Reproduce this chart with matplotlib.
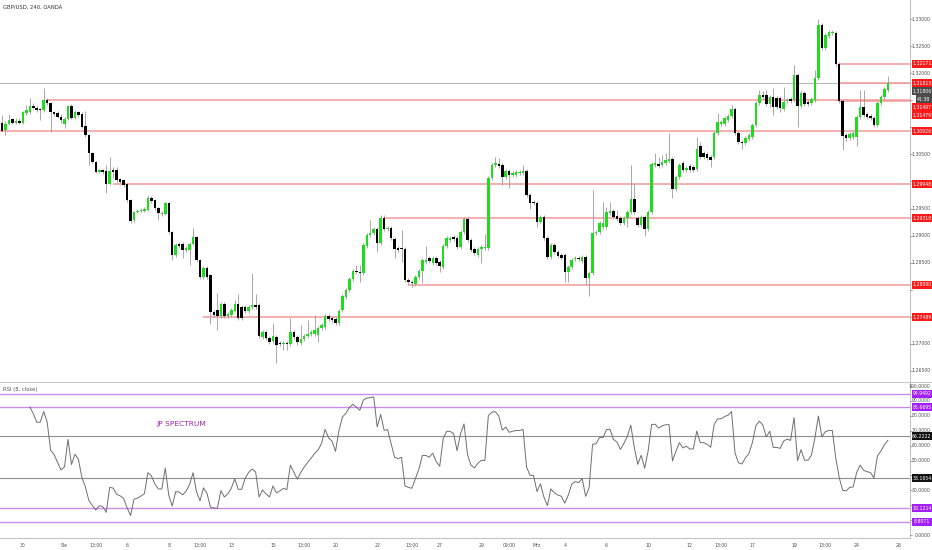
import numpy as np
import pandas as pd
import matplotlib
matplotlib.use('Agg')
import matplotlib.pyplot as plt
from matplotlib.patches import Rectangle

# ---------------- data ----------------
opens = [
1.3108, 1.3095, 1.3106, 1.3115, 1.3108, 1.3112, 1.3108, 1.3126, 1.3128, 1.3139,
1.3136, 1.3134, 1.3132, 1.3150, 1.3145, 1.3128, 1.3126, 1.3119, 1.3106, 1.3115,
1.3139, 1.3117, 1.3128, 1.3125, 1.3102, 1.3086, 1.3053, 1.3036, 1.3017, 1.3021,
1.3019, 1.2995, 1.3021, 1.3021, 1.3004, 1.3003, 1.2995, 1.2966, 1.2929, 1.2944,
1.2945, 1.2945, 1.2947, 1.2969, 1.2966, 1.2951, 1.2940, 1.2940, 1.2960, 1.2907,
1.2864, 1.2884, 1.2884, 1.2873, 1.2873, 1.2884, 1.2897, 1.2855, 1.2823, 1.2840,
1.2827, 1.2759, 1.2762, 1.2751, 1.2774, 1.2751, 1.2753, 1.2761, 1.2774, 1.2768,
1.2768, 1.2761, 1.2768, 1.2772, 1.2772, 1.2713, 1.2722, 1.2711, 1.2705, 1.2713,
1.2702, 1.2700, 1.2702, 1.2700, 1.2722, 1.2713, 1.2702, 1.2709, 1.2714, 1.2718,
1.2718, 1.2716, 1.2729, 1.2731, 1.2751, 1.2748, 1.2746, 1.2738, 1.2762, 1.2786,
1.2799, 1.2820, 1.2835, 1.2833, 1.2831, 1.2881, 1.2901, 1.2905, 1.2912, 1.2886,
1.2932, 1.2912, 1.2914, 1.2894, 1.2877, 1.2877, 1.2875, 1.2818, 1.2814, 1.2810,
1.2823, 1.2835, 1.2851, 1.2858, 1.2849, 1.2858, 1.2851, 1.2842, 1.2881, 1.2892,
1.2897, 1.2896, 1.2879, 1.2907, 1.2931, 1.2892, 1.2875, 1.2864, 1.2875, 1.2877,
1.2877, 1.3006, 1.3030, 1.3032, 1.3030, 1.3008, 1.3019, 1.3012, 1.3012, 1.3015,
1.3015, 1.3019, 1.2975, 1.2962, 1.2960, 1.2925, 1.2934, 1.2896, 1.2860, 1.2883,
1.2870, 1.2864, 1.2864, 1.2833, 1.2842, 1.2856, 1.2858, 1.2853, 1.2860, 1.2822,
1.2831, 1.2905, 1.2907, 1.2916, 1.2916, 1.2942, 1.2945, 1.2936, 1.2932, 1.2923,
1.2932, 1.2944, 1.2968, 1.2932, 1.2919, 1.2934, 1.2912, 1.2944, 1.3030, 1.3032,
1.3030, 1.3034, 1.3038, 1.3041, 1.2986, 1.3008, 1.3034, 1.3021, 1.3028, 1.3027,
1.3023, 1.3065, 1.3053, 1.3051, 1.3045, 1.3045, 1.3089, 1.3106, 1.3106, 1.3113,
1.3121, 1.3134, 1.3089, 1.3073, 1.3071, 1.3078, 1.3082, 1.3104, 1.3145, 1.3160,
1.3160, 1.3143, 1.3156, 1.3154, 1.3154, 1.3134, 1.3149, 1.3152, 1.3150, 1.3197,
1.3139, 1.3163, 1.3147, 1.3145, 1.3150, 1.3191, 1.3289, 1.3246, 1.3269, 1.3274,
1.3274, 1.3217, 1.3149, 1.3086, 1.3080, 1.3082, 1.3082, 1.3119, 1.3137, 1.3125,
1.3121, 1.3117, 1.3104, 1.3145, 1.3156, 1.3169]

closes = [
1.3093, 1.3106, 1.3113, 1.3108, 1.3112, 1.3108, 1.3128, 1.3132, 1.3139, 1.3136,
1.3132, 1.3132, 1.3150, 1.3145, 1.3128, 1.3125, 1.3119, 1.3113, 1.3115, 1.3139,
1.3117, 1.3128, 1.3123, 1.3101, 1.3086, 1.3053, 1.3036, 1.3017, 1.3021, 1.3017,
1.2995, 1.3019, 1.3017, 1.3003, 1.2999, 1.2993, 1.2966, 1.2927, 1.2944, 1.2945,
1.2947, 1.2949, 1.2969, 1.2964, 1.2951, 1.2942, 1.2942, 1.2960, 1.2907, 1.2864,
1.2883, 1.2881, 1.2873, 1.2877, 1.2884, 1.2897, 1.2855, 1.2823, 1.2840, 1.2823,
1.2759, 1.2753, 1.2751, 1.2774, 1.2751, 1.2755, 1.2762, 1.2774, 1.2748, 1.2748,
1.2761, 1.2768, 1.2772, 1.2768, 1.2714, 1.2722, 1.2711, 1.2703, 1.2714, 1.2698,
1.2700, 1.2702, 1.2700, 1.2722, 1.2713, 1.2703, 1.2709, 1.2714, 1.2718, 1.2722,
1.2726, 1.2729, 1.2735, 1.2751, 1.2746, 1.2744, 1.2738, 1.2761, 1.2788, 1.2799,
1.2820, 1.2835, 1.2833, 1.2831, 1.2883, 1.2901, 1.2905, 1.2912, 1.2886, 1.2932,
1.2912, 1.2914, 1.2896, 1.2875, 1.2873, 1.2875, 1.2818, 1.2814, 1.2812, 1.2823,
1.2835, 1.2855, 1.2855, 1.2853, 1.2858, 1.2849, 1.2844, 1.2881, 1.2896, 1.2896,
1.2894, 1.2879, 1.2907, 1.2931, 1.2892, 1.2873, 1.2868, 1.2875, 1.2879, 1.2879,
1.3006, 1.3030, 1.3034, 1.3028, 1.3008, 1.3019, 1.3012, 1.3015, 1.3017, 1.3017,
1.3019, 1.2975, 1.2960, 1.2960, 1.2925, 1.2934, 1.2896, 1.2860, 1.2883, 1.2870,
1.2862, 1.2858, 1.2833, 1.2842, 1.2855, 1.2858, 1.2856, 1.2860, 1.2822, 1.2831,
1.2905, 1.2907, 1.2923, 1.2923, 1.2944, 1.2945, 1.2934, 1.2931, 1.2923, 1.2932,
1.2944, 1.2968, 1.2944, 1.2919, 1.2934, 1.2912, 1.2944, 1.3032, 1.3034, 1.3028,
1.3036, 1.3040, 1.3041, 1.2986, 1.3008, 1.3030, 1.3021, 1.3025, 1.3021, 1.3021,
1.3060, 1.3045, 1.3045, 1.3043, 1.3040, 1.3089, 1.3109, 1.3109, 1.3117, 1.3121,
1.3134, 1.3089, 1.3073, 1.3071, 1.3080, 1.3086, 1.3104, 1.3145, 1.3160, 1.3156,
1.3143, 1.3156, 1.3137, 1.3137, 1.3136, 1.3147, 1.3150, 1.3149, 1.3197, 1.3139,
1.3163, 1.3143, 1.3143, 1.3152, 1.3191, 1.3289, 1.3246, 1.3270, 1.3276, 1.3276,
1.3217, 1.3149, 1.3084, 1.3080, 1.3088, 1.3089, 1.3119, 1.3137, 1.3123, 1.3119,
1.3117, 1.3104, 1.3145, 1.3156, 1.3171, 1.3182]

highs = [
1.3123, 1.3112, 1.3125, 1.3117, 1.3117, 1.3117, 1.3130, 1.3141, 1.3154, 1.3145,
1.3141, 1.3136, 1.3173, 1.3154, 1.3147, 1.3130, 1.3130, 1.3125, 1.3119, 1.3141,
1.3143, 1.3132, 1.3130, 1.3128, 1.3130, 1.3088, 1.3055, 1.3038, 1.3023, 1.3023,
1.3030, 1.3045, 1.3027, 1.3027, 1.3006, 1.3004, 1.2997, 1.2968, 1.2945, 1.2949,
1.2951, 1.2953, 1.2975, 1.2973, 1.2968, 1.2953, 1.2945, 1.2962, 1.2962, 1.2908,
1.2886, 1.2888, 1.2888, 1.2881, 1.2888, 1.2914, 1.2899, 1.2856, 1.2844, 1.2844,
1.2829, 1.2762, 1.2794, 1.2777, 1.2777, 1.2759, 1.2766, 1.2781, 1.2792, 1.2772,
1.2772, 1.2772, 1.2831, 1.2792, 1.2775, 1.2726, 1.2726, 1.2714, 1.2738, 1.2716,
1.2705, 1.2705, 1.2705, 1.2748, 1.2726, 1.2716, 1.2735, 1.2718, 1.2744, 1.2726,
1.2753, 1.2733, 1.2738, 1.2755, 1.2755, 1.2751, 1.2749, 1.2764, 1.2792, 1.2803,
1.2823, 1.2838, 1.2846, 1.2846, 1.2886, 1.2905, 1.2929, 1.2916, 1.2916, 1.2938,
1.2938, 1.2918, 1.2918, 1.2897, 1.2881, 1.2910, 1.2879, 1.2822, 1.2818, 1.2827,
1.2838, 1.2858, 1.2881, 1.2862, 1.2862, 1.2862, 1.2855, 1.2884, 1.2899, 1.2899,
1.2901, 1.2899, 1.2910, 1.2934, 1.2934, 1.2896, 1.2879, 1.2879, 1.2883, 1.2903,
1.3010, 1.3034, 1.3045, 1.3043, 1.3034, 1.3023, 1.3023, 1.3019, 1.3021, 1.3021,
1.3030, 1.3023, 1.2979, 1.2966, 1.2964, 1.2938, 1.2938, 1.2899, 1.2886, 1.2886,
1.2873, 1.2868, 1.2868, 1.2846, 1.2858, 1.2862, 1.2862, 1.2864, 1.2864, 1.2835,
1.2984, 1.2910, 1.2927, 1.2962, 1.2953, 1.2962, 1.2949, 1.2947, 1.2936, 1.2936,
1.2947, 1.3030, 1.2997, 1.2936, 1.2938, 1.2938, 1.2947, 1.3036, 1.3053, 1.3045,
1.3049, 1.3053, 1.3089, 1.3045, 1.3012, 1.3034, 1.3038, 1.3028, 1.3032, 1.3030,
1.3082, 1.3073, 1.3056, 1.3055, 1.3049, 1.3093, 1.3126, 1.3113, 1.3121, 1.3125,
1.3141, 1.3137, 1.3093, 1.3077, 1.3084, 1.3089, 1.3108, 1.3149, 1.3169, 1.3167,
1.3169, 1.3160, 1.3173, 1.3158, 1.3158, 1.3175, 1.3154, 1.3156, 1.3215, 1.3200,
1.3167, 1.3167, 1.3150, 1.3156, 1.3206, 1.3300, 1.3293, 1.3274, 1.3280, 1.3280,
1.3278, 1.3221, 1.3152, 1.3089, 1.3091, 1.3093, 1.3123, 1.3169, 1.3169, 1.3128,
1.3125, 1.3121, 1.3149, 1.3160, 1.3175, 1.3195]

lows = [
1.3091, 1.3086, 1.3104, 1.3106, 1.3106, 1.3106, 1.3106, 1.3123, 1.3125, 1.3134,
1.3128, 1.3113, 1.3128, 1.3141, 1.3091, 1.3121, 1.3117, 1.3108, 1.3099, 1.3113,
1.3115, 1.3115, 1.3119, 1.3099, 1.3082, 1.3030, 1.3034, 1.3016, 1.3016, 1.3014,
1.2979, 1.2993, 1.3006, 1.2999, 1.2995, 1.2990, 1.2962, 1.2923, 1.2925, 1.2942,
1.2944, 1.2944, 1.2945, 1.2960, 1.2947, 1.2929, 1.2936, 1.2938, 1.2903, 1.2855,
1.2860, 1.2877, 1.2858, 1.2870, 1.2846, 1.2883, 1.2851, 1.2820, 1.2820, 1.2820,
1.2737, 1.2749, 1.2726, 1.2747, 1.2747, 1.2747, 1.2749, 1.2759, 1.2744, 1.2744,
1.2757, 1.2757, 1.2764, 1.2764, 1.2711, 1.2709, 1.2707, 1.2700, 1.2702, 1.2665,
1.2696, 1.2689, 1.2689, 1.2696, 1.2709, 1.2698, 1.2698, 1.2705, 1.2711, 1.2714,
1.2714, 1.2703, 1.2726, 1.2727, 1.2742, 1.2740, 1.2735, 1.2735, 1.2759, 1.2783,
1.2796, 1.2816, 1.2829, 1.2814, 1.2827, 1.2877, 1.2897, 1.2901, 1.2870, 1.2883,
1.2908, 1.2908, 1.2892, 1.2858, 1.2870, 1.2851, 1.2814, 1.2810, 1.2805, 1.2807,
1.2820, 1.2812, 1.2847, 1.2849, 1.2846, 1.2846, 1.2833, 1.2838, 1.2877, 1.2888,
1.2890, 1.2875, 1.2875, 1.2903, 1.2888, 1.2870, 1.2864, 1.2860, 1.2849, 1.2873,
1.2873, 1.3003, 1.3027, 1.3025, 1.2993, 1.3004, 1.2988, 1.3008, 1.3008, 1.3012,
1.3012, 1.2971, 1.2949, 1.2956, 1.2916, 1.2921, 1.2892, 1.2857, 1.2857, 1.2866,
1.2858, 1.2855, 1.2814, 1.2814, 1.2838, 1.2853, 1.2853, 1.2849, 1.2809, 1.2788,
1.2827, 1.2901, 1.2903, 1.2912, 1.2912, 1.2938, 1.2931, 1.2927, 1.2919, 1.2919,
1.2916, 1.2940, 1.2940, 1.2916, 1.2916, 1.2899, 1.2908, 1.2940, 1.3027, 1.3025,
1.3027, 1.3030, 1.3034, 1.2969, 1.2982, 1.3004, 1.3017, 1.3017, 1.3017, 1.3017,
1.3019, 1.3041, 1.3041, 1.3040, 1.3027, 1.3041, 1.3086, 1.3102, 1.3102, 1.3109,
1.3117, 1.3086, 1.3069, 1.3060, 1.3067, 1.3075, 1.3078, 1.3101, 1.3141, 1.3152,
1.3139, 1.3137, 1.3123, 1.3134, 1.3128, 1.3130, 1.3145, 1.3145, 1.3147, 1.3101,
1.3136, 1.3139, 1.3139, 1.3141, 1.3147, 1.3187, 1.3243, 1.3243, 1.3265, 1.3270,
1.3213, 1.3145, 1.3058, 1.3075, 1.3077, 1.3078, 1.3065, 1.3115, 1.3119, 1.3115,
1.3113, 1.3101, 1.3101, 1.3141, 1.3152, 1.3165]

time_labels = ['30', 'Sie', '13:00', '6', '8', '13:00', '13', '15', '13:00', '20',
               '22', '13:00', '27', '29', '09:00', 'Mrz', '4', '6', '10', '12',
               '13:00', '17', '19', '13:00', '24', '26']
time_label_bars = [6, 18, 27, 36, 48, 57, 66, 78, 87, 96,
                   108, 118, 126, 138, 146, 154, 162, 174, 186, 198,
                   207, 216, 228, 237, 246, 258]

level_prices = [1.32171, 1.31813, 1.31497, 1.31479, 1.30926, 1.29948, 1.29318, 1.28090, 1.27489]
level_start_bar = [241, 241, 13, 241, -1, 32, 110, 117, 58]
prev_close_level = 1.31813
last_price = 1.31806
countdown = '41:38'

price_ticks = [1.265, 1.270, 1.275, 1.280, 1.285, 1.290, 1.295, 1.300,
               1.305, 1.310, 1.315, 1.320, 1.325, 1.330]

rsi_len = 8
rsi_bands = [94.9492, 85.6695, 18.1214, 8.8071]
rsi_gray = [66.2222, 38.1654]
rsi_ticks = [0, 10, 20, 30, 40, 50, 60, 70, 80, 90, 100]

# ---------------- figure ----------------
W, H = 932, 550
fig = plt.figure(figsize=(W / 100, H / 100), dpi=100)
fig.patch.set_facecolor('white')

AXR = 910  # right edge of the plotting panes (px)
ax = fig.add_axes([0, 1 - 381 / H, AXR / W, 381 / H])
axr = fig.add_axes([0, 1 - 538 / H, AXR / W, 156 / H])
for a in (ax, axr):
    a.set_facecolor('white')
    for s in a.spines.values():
        s.set_visible(False)
    a.set_xticks([])
    a.set_yticks([])

n = len(closes)
idx = np.arange(n)
step = 3.474
xl = (-2 / step, (AXR - 2) / step)
ax.set_xlim(*xl)
axr.set_xlim(*xl)
ax.set_ylim(1.26314, 1.33351)
axr.set_ylim(-2.0, 102.7)

o = np.array(opens); c = np.array(closes)
h = np.array(highs); l = np.array(lows)
up = c >= o
GREEN = '#1fdc1f'

ax.vlines(idx, l, h, color='#9a9a9a', lw=0.6, zorder=2)
bottoms = np.minimum(o, c)
heights = np.maximum(np.abs(c - o), 0.00012)
ax.bar(idx, heights, bottom=bottoms, width=0.72,
       color=np.where(up, GREEN, '#000000'), linewidth=0, zorder=3)

# horizontal levels
ax.axhline(prev_close_level, color='#b9b9b9', lw=0.8, zorder=1)
for p, sb in zip(level_prices, level_start_bar):
    ax.hlines(p, max(sb, xl[0]), xl[1], color='#f39a9a', lw=1.1, zorder=1)

# RSI (Wilder / RMA, as the indicator does)
cs = pd.Series(closes)
d = cs.diff()
gain = d.clip(lower=0)
loss = -d.clip(upper=0)
ag = np.full(n, np.nan); al = np.full(n, np.nan)
ag[rsi_len] = gain[1:rsi_len + 1].mean()
al[rsi_len] = loss[1:rsi_len + 1].mean()
for i in range(rsi_len + 1, n):
    ag[i] = (ag[i - 1] * (rsi_len - 1) + gain[i]) / rsi_len
    al[i] = (al[i - 1] * (rsi_len - 1) + loss[i]) / rsi_len
rsi = 100 - 100 / (1 + ag / np.where(al == 0, 1e-12, al))

for v in rsi_bands:
    axr.axhline(v, color='#c98af2', lw=1.0, zorder=1)
for v in rsi_gray:
    axr.axhline(v, color='#8f8f8f', lw=0.8, zorder=1)
axr.plot(idx, rsi, color='#6e6e6e', lw=0.7, zorder=3)

# ---------------- overlay in pixel space ----------------
ov = fig.add_axes([0, 0, 1, 1], zorder=10)
ov.set_xlim(0, W)
ov.set_ylim(H, 0)
ov.axis('off')
ov.patch.set_alpha(0)

def ypix(a, v):
    return H - a.transData.transform((0, v))[1]

def xpix(a, v):
    return a.transData.transform((v, 0))[0]

FS = 3.3
TXT = '#505050'
# frame lines
ov.plot([AXR, AXR], [0, 538], color='#c4c4c4', lw=0.8)
ov.plot([0, W], [381.5, 381.5], color='#c8c8c8', lw=0.8)
ov.plot([0, AXR], [538, 538], color='#c4c4c4', lw=0.8)

box_centers = []

def box(y, text, fc, x0=912, w=19.5):
    ov.add_patch(Rectangle((x0, y - 4), w, 8, facecolor=fc, edgecolor='none', zorder=5))
    ov.text(x0 + w / 2, y, text, fontsize=FS, color='white', ha='center', va='center', zorder=6)
    box_centers.append(y)

# stacked price labels (top to bottom)
RED = '#ff1a1a'
items = [(ypix(ax, 1.32171), '1.32171', RED),
         (ypix(ax, 1.31813), '1.31813', RED),
         (ypix(ax, last_price), f'{last_price:.5f}', '#4b4b4b'),
         (None, countdown, '#4b4b4b'),
         (ypix(ax, 1.31497), '1.31497', RED),
         (ypix(ax, 1.31479), '1.31479', RED)]
prev = -100
for y, t, col in items:
    yy = prev + 8 if y is None else max(y, prev + 8)
    if t == countdown:
        box(yy, t, col, x0=916, w=15.5)
    else:
        box(yy, t, col)
    prev = yy
for p in [1.30926, 1.29948, 1.29318, 1.28090, 1.27489]:
    box(ypix(ax, p), f'{p:.5f}', RED)

PURPLE = '#a31ff5'
for v in rsi_bands:
    box(ypix(axr, v), f'{v:.4f}', PURPLE)
for v in rsi_gray:
    box(ypix(axr, v), f'{v:.4f}', '#111111')

def free(y):
    return all(abs(y - b) > 5.5 for b in box_centers)

TX = 930.5  # right edge of the scale labels
# price ticks
for t in price_ticks:
    y = ypix(ax, t)
    ov.plot([AXR, AXR + 2], [y, y], color='#888888', lw=0.5)
    if free(y):
        ov.text(TX, y, f'{t:.5f}', fontsize=FS, color=TXT, va='center', ha='right', zorder=2)

# rsi ticks
for t in rsi_ticks:
    y = ypix(axr, t)
    ov.plot([AXR, AXR + 2], [y, y], color='#888888', lw=0.5)
    if free(y):
        ov.text(TX, y, f'{t:.4f}', fontsize=FS, color=TXT, va='center', ha='right', zorder=2)

# time labels
for lbl, b in zip(time_labels, time_label_bars):
    ov.text(xpix(axr, b), 545.5, lbl, fontsize=FS, color=TXT, ha='center', va='center')

ov.text(3, 7, 'GBP/USD, 240, OANDA', fontsize=3.8, color='#333333', ha='left', va='center')
ov.text(3, 389, 'RSI (8, close)', fontsize=3.8, color='#555555', ha='left', va='center')
ov.text(181, 424, 'JP SPECTRUM', fontsize=5.4, color='#9c27b0', ha='center', va='center')

fig.savefig('out.png', dpi=100, facecolor='white')
